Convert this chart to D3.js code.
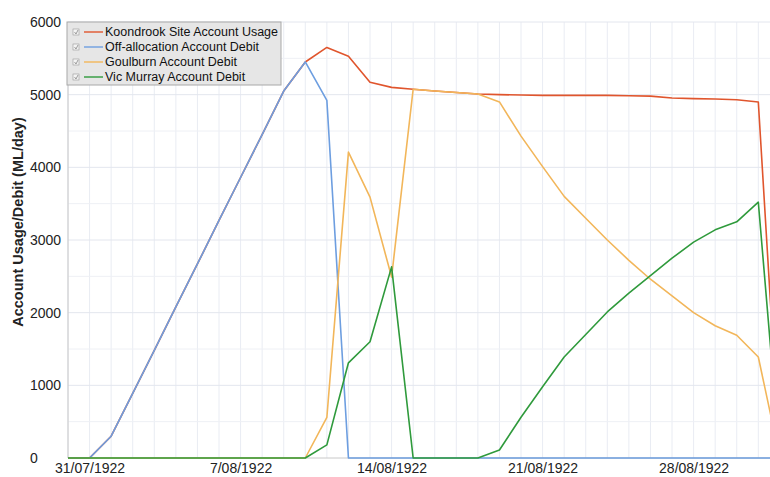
<!DOCTYPE html>
<html>
<head>
<meta charset="utf-8">
<script src="https://cdn.jsdelivr.net/npm/d3@7"></script>
<style>
  body { margin: 0; background: #fff; }
  svg { display: block; }
</style>
</head>
<body>
<div id="chart"></div>
<script>
// daily values, 30/07/1922 .. 01/09/1922
const startDate = "30/07/1922";
const seriesNames = ["Koondrook Site Account Usage", "Off-allocation Account Debit", "Goulburn Account Debit", "Vic Murray Account Debit"];
const koondrook = [0, 0, 300, 890, 1480, 2080, 2670, 3270, 3860, 4450, 5050, 5450, 5650, 5530, 5170, 5100, 5075, 5050, 5030, 5010, 5000, 4995, 4990, 4990, 4990, 4990, 4985, 4980, 4955, 4945, 4940, 4930, 4900, 0];
const offAllocation = [0, 0, 300, 890, 1480, 2080, 2670, 3270, 3860, 4450, 5050, 5450, 4920, 0, 0, 0, 0, 0, 0, 0, 0, 0, 0, 0, 0, 0, 0, 0, 0, 0, 0, 0, 0, 0];
const goulburn = [0, 0, 0, 0, 0, 0, 0, 0, 0, 0, 0, 0, 560, 4210, 3590, 2490, 5075, 5050, 5030, 5010, 4900, 4430, 4010, 3600, 3300, 3000, 2720, 2460, 2230, 2000, 1820, 1690, 1390, 0];
const vicMurray = [0, 0, 0, 0, 0, 0, 0, 0, 0, 0, 0, 0, 180, 1310, 1600, 2630, 0, 0, 0, 0, 110, 560, 980, 1390, 1700, 2010, 2270, 2510, 2750, 2970, 3140, 3250, 3520, 0];
const xTickLabels = ["31/07/1922", "7/08/1922", "14/08/1922", "21/08/1922", "28/08/1922"];
const yTicks = [0, 1000, 2000, 3000, 4000, 5000, 6000];
const colours = ["#e0552d", "#6d9ee0", "#f2b65a", "#2f9a3c"];

const parse = d3.timeParse("%d/%m/%Y");
const t0 = parse(startDate);
const dates = koondrook.map((d, i) => d3.timeDay.offset(t0, i));
const allSeries = [koondrook, offAllocation, goulburn, vicMurray];

const W = 770, H = 477;
const margin = { top: 22, right: 0, bottom: 19, left: 68 };
const width = W - margin.left - margin.right;
const height = H - margin.top - margin.bottom;
const fontFamily = "Arial, 'Liberation Sans', sans-serif";

const xScale = d3.scaleTime()
    .domain([t0, d3.timeHour.offset(t0, Math.round(32.55 * 24))])
    .range([0, width]);
const yScale = d3.scaleLinear()
    .domain([0, 6000])
    .range([height, 0]);

const svg = d3.select("#chart").append("svg")
    .attr("width", W)
    .attr("height", H)
    .style("font-family", fontFamily);

svg.append("defs").append("clipPath").attr("id", "clip")
    .append("rect").attr("width", width).attr("height", height + 2).attr("y", -1);

const chart = svg.append("g")
    .attr("transform", "translate(" + margin.left + "," + margin.top + ")");

// grid
const days = d3.timeDay.range(t0, xScale.domain()[1]);
chart.append("g").selectAll("line").data(days).join("line")
    .attr("x1", d => xScale(d)).attr("x2", d => xScale(d))
    .attr("y1", 0).attr("y2", height)
    .attr("stroke", "#e9ecf3").attr("stroke-width", 1);
chart.append("g").selectAll("line").data(d3.range(500, 6001, 500)).join("line")
    .attr("x1", 0).attr("x2", width)
    .attr("y1", d => yScale(d)).attr("y2", d => yScale(d))
    .attr("stroke", d => d % 1000 === 0 ? "#e3e6ee" : "#eef0f5").attr("stroke-width", 1);

// axis lines
chart.append("line").attr("x1", 0).attr("x2", 0).attr("y1", 0).attr("y2", height)
    .attr("stroke", "#c8c8c8");
chart.append("line").attr("x1", 0).attr("x2", width).attr("y1", height).attr("y2", height)
    .attr("stroke", "#c8c8c8");

// lines
const lineGen = d3.line()
    .x((d, i) => xScale(dates[i]))
    .y(d => yScale(d));
const lines = chart.append("g").attr("clip-path", "url(#clip)");
allSeries.forEach((s, i) => {
    lines.append("path")
        .datum(s)
        .attr("fill", "none")
        .attr("stroke", colours[i])
        .attr("stroke-width", 1.6)
        .attr("stroke-linejoin", "round")
        .attr("d", lineGen);
});

// x axis labels
const xAxis = d3.axisBottom(xScale)
    .tickValues(xTickLabels.map(parse))
    .tickSize(0)
    .tickPadding(5)
    .tickFormat(d3.timeFormat("%-d/%m/%Y"));
const gx = chart.append("g")
    .attr("transform", "translate(0," + height + ")")
    .call(xAxis);
gx.select(".domain").remove();
gx.selectAll("text").style("font-size", "14px").style("fill", "#222").style("font-family", fontFamily);

// y axis labels (left aligned)
chart.append("g").selectAll("text").data(yTicks).join("text")
    .attr("x", 30 - margin.left)
    .attr("y", d => yScale(d))
    .attr("dy", "0.35em")
    .style("font-size", "14px")
    .style("fill", "#222")
    .text(d => d);

svg.append("text")
    .attr("transform", "translate(23," + 222 + ") rotate(-90)")
    .attr("text-anchor", "middle")
    .style("font-size", "14.5px")
    .style("font-weight", "bold")
    .style("fill", "#222")
    .text("Account Usage/Debit (ML/day)");

// legend
const legend = svg.append("g").attr("transform", "translate(67,22)");
legend.append("rect")
    .attr("width", 214).attr("height", 63)
    .attr("fill", "#e6e6e6").attr("stroke", "#a8a8a8");
seriesNames.forEach((name, i) => {
    const row = legend.append("g").attr("transform", "translate(0," + (10 + i * 15) + ")");
    row.append("rect").attr("x", 6).attr("y", -3).attr("width", 6).attr("height", 6)
        .attr("fill", "#f4f4f4").attr("stroke", "#9a9a9a").attr("stroke-width", 0.6);
    row.append("path").attr("d", "M7.5,0 L9,2 L11,-2")
        .attr("fill", "none").attr("stroke", "#777").attr("stroke-width", 0.7);
    row.append("line").attr("x1", 17).attr("x2", 36).attr("y1", 0).attr("y2", 0)
        .attr("stroke", colours[i]).attr("stroke-width", 1.4);
    row.append("text").attr("x", 38).attr("y", 0).attr("dy", "0.35em")
        .style("font-size", "12.5px").style("fill", "#111")
        .text(name);
});
</script>
</body>
</html>
